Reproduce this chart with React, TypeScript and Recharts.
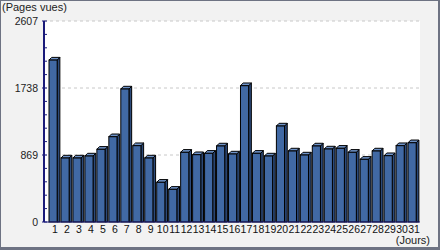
import { Bar, BarChart, CartesianGrid, XAxis, YAxis } from "recharts";

const days = [
  "1", "2", "3", "4", "5", "6", "7", "8", "9", "10", "11", "12", "13", "14", "15", "16",
  "17", "18", "19", "20", "21", "22", "23", "24", "25", "26", "27", "28", "29", "30", "31",
];
const views = [
  2100, 830, 830, 856, 943, 1106, 1725, 990, 830, 515, 424, 904, 873, 891, 986, 882,
  1768, 891, 856, 1245, 921, 869, 986, 947, 956, 904, 813, 921, 860, 990, 1028,
];
const yMax = 2607;
const majorTicks = [0, 869, 1738, 2607];
const yTicks = Array.from({ length: 16 }, (_, i) => (i * yMax) / 15);

const data = days.map((day, i) => ({ day, views: views[i] }));

const font = "'Liberation Sans', Arial, sans-serif";
const axisColor = "#1a1a7a";

const Bar3D = (props: any) => {
  const { x, y, width, height } = props;
  const front = width * 0.68;
  const d = 2.7;
  return (
    <g>
      <polygon
        points={`${x + front},${y} ${x + front + d},${y - d} ${x + front + d},${y + height} ${x + front},${y + height}`}
        fill="#2c4a7a"
        stroke="#000"
        strokeWidth={1}
      />
      <polygon
        points={`${x},${y} ${x + d},${y - d} ${x + front + d},${y - d} ${x + front},${y}`}
        fill="#6f93c8"
        stroke="#000"
        strokeWidth={1}
      />
      <rect x={x} y={y} width={front} height={height} fill="#4169a4" stroke="#000" strokeWidth={1} />
    </g>
  );
};

const YTick = (props: any) => {
  const { x, y, payload, index } = props;
  const major = index % 5 === 0;
  return (
    <g>
      <line x1={major ? x - 2 : x} x2={x + 3} y1={y} y2={y} stroke={axisColor} strokeWidth={1} />
      {major && (
        <text x={x - 6} y={y} textAnchor="end" dominantBaseline="central" fontSize={10.5} fontFamily={font} fill="#222">
          {Math.round(payload.value)}
        </text>
      )}
    </g>
  );
};

export default function App() {
  return (
    <div
      style={{
        position: "absolute",
        left: 0,
        top: 0,
        width: 440,
        height: 250,
        background: "#f2f2f2",
        boxShadow: "inset 1px 1px 0 #6e7383, inset -2px -3px 0 #6e7383",
      }}
    >
      <div style={{ position: "absolute", left: 2, top: 1, fontSize: 11, fontFamily: font, color: "#222", lineHeight: "13px" }}>
        (Pages vues)
      </div>
      <div style={{ position: "absolute", right: 10, top: 234, fontSize: 11, fontFamily: font, color: "#222", lineHeight: "13px" }}>
        (Jours)
      </div>
      <BarChart
        width={440}
        height={250}
        data={data}
        margin={{ top: 21, right: 20, left: 0, bottom: 0 }}
        barCategoryGap={0}
        style={{ position: "absolute", left: 0, top: 0 }}
      >
        <CartesianGrid
          fill="#ffffff"
          vertical={false}
          horizontalValues={[869, 1738, 2607]}
          stroke="#c8c8c8"
          strokeDasharray="3 3"
        />
        <XAxis
          dataKey="day"
          interval={0}
          tickLine={false}
          tickSize={0}
          tickMargin={4}
          height={28}
          padding={{ left: 5, right: 0 }}
          axisLine={{ stroke: axisColor }}
          tick={{ fontSize: 10.5, fontFamily: font, fill: "#111" }}
        />
        <YAxis
          width={44}
          domain={[0, yMax]}
          ticks={yTicks}
          interval={0}
          tickSize={0}
          tickMargin={0}
          tickLine={false}
          axisLine={{ stroke: axisColor, strokeWidth: 2 }}
          tick={<YTick />}
        />
        <Bar dataKey="views" shape={<Bar3D />} isAnimationActive={false} />
      </BarChart>
    </div>
  );
}
